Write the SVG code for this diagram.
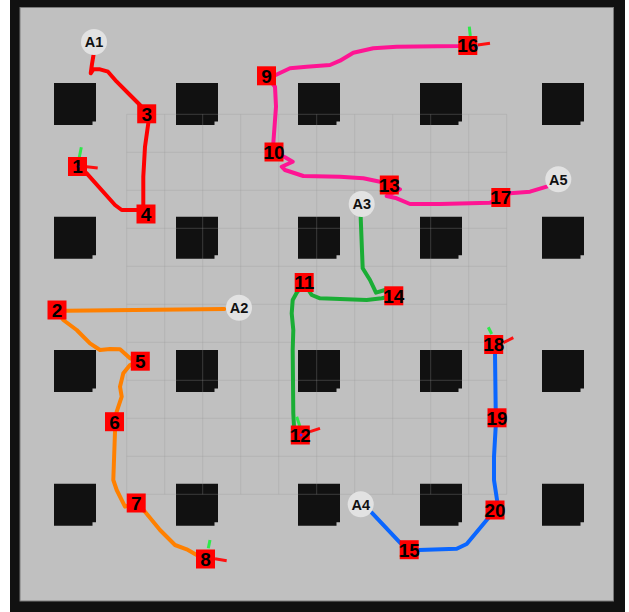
<svg xmlns="http://www.w3.org/2000/svg" xmlns:xlink="http://www.w3.org/1999/xlink" width="629" height="612" viewBox="0 0 629 612">
<style>
.obs{fill:#111111}
.grid line{stroke:#9a9a9a;stroke-width:1;opacity:0.3}
.path{fill:none;stroke-width:4;stroke-linejoin:round;stroke-linecap:round}
.sq{fill:#ff0000}
.num{font-family:"Liberation Sans",Arial,sans-serif;font-weight:bold;font-size:19px;fill:#000000;text-anchor:middle}
.ag circle{fill:#e2e2e2}
.alab{font-family:"Liberation Sans",Arial,sans-serif;font-weight:bold;font-size:14.5px;fill:#111111;text-anchor:middle}
.ox{stroke:#ff1010;stroke-width:3;stroke-linecap:butt}
.oy{stroke:#2ee84a;stroke-width:3;stroke-linecap:butt}
.dot{fill:#3a2aff}
</style>
<defs>
<path id="ob" class="obs" d="M0 0 H42 V38.5 H38.5 V42 H0 Z"/>
</defs>
<rect x="0" y="0" width="629" height="612" fill="#ffffff"/>
<rect x="10" y="0" width="615" height="612" fill="#111111"/>
<rect x="20" y="7.5" width="593.5" height="593.5" fill="#c0c0c0" stroke="#7a7a7a" stroke-width="1"/>
<g id="obstacles">
<use xlink:href="#ob" x="54" y="83"/><use xlink:href="#ob" x="176" y="83"/><use xlink:href="#ob" x="298" y="83"/><use xlink:href="#ob" x="420" y="83"/><use xlink:href="#ob" x="542" y="83"/>
<use xlink:href="#ob" x="54" y="216.7"/><use xlink:href="#ob" x="176" y="216.7"/><use xlink:href="#ob" x="298" y="216.7"/><use xlink:href="#ob" x="420" y="216.7"/><use xlink:href="#ob" x="542" y="216.7"/>
<use xlink:href="#ob" x="54" y="350"/><use xlink:href="#ob" x="176" y="350"/><use xlink:href="#ob" x="298" y="350"/><use xlink:href="#ob" x="420" y="350"/><use xlink:href="#ob" x="542" y="350"/>
<use xlink:href="#ob" x="54" y="483.7"/><use xlink:href="#ob" x="176" y="483.7"/><use xlink:href="#ob" x="298" y="483.7"/><use xlink:href="#ob" x="420" y="483.7"/><use xlink:href="#ob" x="542" y="483.7"/>
</g>
<g class="grid">
<line x1="126.7" y1="114.3" x2="126.7" y2="494.3"/><line x1="164.7" y1="114.3" x2="164.7" y2="494.3"/><line x1="202.7" y1="114.3" x2="202.7" y2="494.3"/><line x1="240.7" y1="114.3" x2="240.7" y2="494.3"/><line x1="278.7" y1="114.3" x2="278.7" y2="494.3"/><line x1="316.7" y1="114.3" x2="316.7" y2="494.3"/><line x1="354.7" y1="114.3" x2="354.7" y2="494.3"/><line x1="392.7" y1="114.3" x2="392.7" y2="494.3"/><line x1="430.7" y1="114.3" x2="430.7" y2="494.3"/><line x1="468.7" y1="114.3" x2="468.7" y2="494.3"/><line x1="506.7" y1="114.3" x2="506.7" y2="494.3"/>
<line x1="126.7" y1="114.3" x2="506.7" y2="114.3"/><line x1="126.7" y1="152.3" x2="506.7" y2="152.3"/><line x1="126.7" y1="190.3" x2="506.7" y2="190.3"/><line x1="126.7" y1="228.3" x2="506.7" y2="228.3"/><line x1="126.7" y1="266.3" x2="506.7" y2="266.3"/><line x1="126.7" y1="304.3" x2="506.7" y2="304.3"/><line x1="126.7" y1="342.3" x2="506.7" y2="342.3"/><line x1="126.7" y1="380.3" x2="506.7" y2="380.3"/><line x1="126.7" y1="418.3" x2="506.7" y2="418.3"/><line x1="126.7" y1="456.3" x2="506.7" y2="456.3"/><line x1="126.7" y1="494.3" x2="506.7" y2="494.3"/>
</g>
<g id="connectors">
<polyline class="path" stroke="#ff0000" points="93.5,55 92,64 90.7,73.3 93.3,69.3 100,69.3 108,71.7 116.7,81.7 130,95 140,105 146.5,113 148.3,123.3 145,146.7 143.3,176.7 143.3,206.7 144,212 140,210 121.7,210 115,205 86.7,173.3 78,166"/>
<polyline class="path" stroke="#ff1493" points="467,45.5 458.3,46 396.7,46.7 373.3,48.3 353.3,52.7 340,60.7 330,65 306.7,66.7 290,68.3 275.7,75 266.5,76 275,86.7 276,106.7 273.3,143.3 274,152 285,157.3 292.7,161.7 281.7,166.7 285,170 303.3,176 340,176.7 363.3,178.3 380,181.7 389,185 400,189.3 386.7,196 396.7,198.3 410,204 440,204 490,202.7 500.8,197.5 510,193.3 530,191.7 546.7,186.7"/>
<polyline class="path" stroke="#ff8000" points="224.3,309 66.7,310.7 57,310 63.3,320 76.7,330 90,343.3 100,350 110,349 120,349.3 130,358.3 140,361 130,365 123.3,373.3 120,386.7 121.7,396.7 116.7,411.7 114.5,421.7 115,431.7 113.3,480 116.7,490 125,506.7 136,503 145,511.7 160,530 175,545 186.7,549.3 196.7,555 205.5,559"/>
<polyline class="path" stroke="#1aad35" points="360.7,217.3 361.7,243.3 362.7,268.3 370,280 376,292.7 385,290 393.8,295.8 381.7,298.3 366.7,300 320,298.3 311.7,295 304,283 296.7,292.7 292.7,300 291.7,313.3 293.3,330 292.7,350 293.3,413.3 294,426.7 300,435"/>
<polyline class="path" stroke="#0a66ff" points="371.7,512.7 400,542.7 409,549.7 419,550 456.7,548.7 466.7,544 486.7,520 495,510 497.3,501.7 494,480 494,456.7 495.7,426.7 497,418 495.7,410 495,353.3 493.7,344.5"/>
</g>
<g id="A1" class="ag"><circle cx="94" cy="42" r="13"/><text class="alab" x="94" y="47.2">A1</text></g>
<g id="A2" class="ag"><circle cx="239" cy="307.7" r="13"/><text class="alab" x="239" y="312.9">A2</text></g>
<g id="A3" class="ag"><circle cx="361.7" cy="204" r="13"/><text class="alab" x="361.7" y="209.2">A3</text></g>
<g id="A4" class="ag"><circle cx="360.7" cy="504.3" r="13"/><text class="alab" x="360.7" y="509.5">A4</text></g>
<g id="A5" class="ag"><circle cx="558.3" cy="179.3" r="13"/><text class="alab" x="558.3" y="184.5">A5</text></g>
<g id="n1"><line class="oy" x1="79.3" y1="157.3" x2="81.3" y2="147.3"/><line class="ox" x1="86.7" y1="166.7" x2="97.7" y2="168"/><rect class="sq" x="68" y="157" width="19" height="19"/><circle class="dot" cx="78" cy="166.5" r="1.5"/><text class="num" x="77.5" y="173.3">1</text></g>
<g id="n2"><rect class="sq" x="47.5" y="300.5" width="19" height="19"/><text class="num" x="57" y="316.8">2</text></g>
<g id="n3"><rect class="sq" x="137.2" y="104.3" width="19" height="19"/><text class="num" x="146.7" y="120.6">3</text></g>
<g id="n4"><rect class="sq" x="136.5" y="204.5" width="19" height="19"/><text class="num" x="146" y="220.8">4</text></g>
<g id="n5"><rect class="sq" x="130.8" y="351.7" width="19" height="19"/><text class="num" x="140.3" y="368">5</text></g>
<g id="n6"><rect class="sq" x="105" y="412.2" width="19" height="19"/><text class="num" x="114.5" y="428.5">6</text></g>
<g id="n7"><rect class="sq" x="126.7" y="493.5" width="19" height="19"/><text class="num" x="136.2" y="509.8">7</text></g>
<g id="n8"><line class="oy" x1="208.3" y1="548.3" x2="210" y2="540"/><line class="ox" x1="215" y1="558.7" x2="226.7" y2="560.7"/><rect class="sq" x="196" y="549.5" width="19" height="19"/><text class="num" x="205.5" y="565.8">8</text></g>
<g id="n9"><rect class="sq" x="257" y="66.3" width="19" height="19"/><text class="num" x="266.5" y="82.6">9</text></g>
<g id="n10"><rect class="sq" x="264.5" y="142.5" width="19" height="19"/><text class="num" x="274" y="158.8">10</text></g>
<g id="n11"><rect class="sq" x="294.7" y="273" width="19" height="19"/><text class="num" x="304.2" y="289.3">11</text></g>
<g id="n12"><line class="oy" x1="296.7" y1="416.7" x2="300" y2="426.7"/><line class="ox" x1="310" y1="431.7" x2="320" y2="428.3"/><rect class="sq" x="290.8" y="425.5" width="19" height="19"/><circle class="dot" cx="301" cy="435" r="1.5"/><text class="num" x="300.3" y="441.8">12</text></g>
<g id="n13"><rect class="sq" x="379.8" y="175.5" width="19" height="19"/><text class="num" x="389.3" y="191.8">13</text></g>
<g id="n14"><rect class="sq" x="384.3" y="286.3" width="19" height="19"/><text class="num" x="393.8" y="302.6">14</text></g>
<g id="n15"><rect class="sq" x="399.7" y="540.2" width="19" height="19"/><text class="num" x="409.2" y="556.5">15</text></g>
<g id="n16"><line class="oy" x1="469.3" y1="26.7" x2="470.3" y2="36"/><line class="ox" x1="477.7" y1="45" x2="490" y2="43.3"/><rect class="sq" x="458.3" y="36" width="19" height="19"/><circle class="dot" cx="475.5" cy="47" r="1.5"/><text class="num" x="467.8" y="52.3">16</text></g>
<g id="n17"><rect class="sq" x="491.3" y="188" width="19" height="19"/><text class="num" x="500.8" y="204.3">17</text></g>
<g id="n18"><line class="oy" x1="488.3" y1="327.3" x2="491.7" y2="334"/><line class="ox" x1="503.3" y1="342.7" x2="513.3" y2="337.7"/><rect class="sq" x="484.2" y="335" width="19" height="19"/><text class="num" x="493.7" y="351.3">18</text></g>
<g id="n19"><rect class="sq" x="487.5" y="408.3" width="19" height="19"/><text class="num" x="497" y="424.6">19</text></g>
<g id="n20"><rect class="sq" x="485.5" y="500.5" width="19" height="19"/><text class="num" x="495" y="516.8">20</text></g>
</svg>
